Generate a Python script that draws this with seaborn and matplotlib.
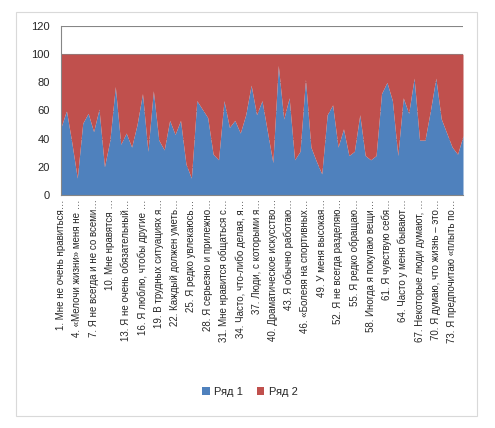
import numpy as np
import pandas as pd
import matplotlib
matplotlib.use("Agg")
import matplotlib.pyplot as plt
import seaborn as sns
from matplotlib.patches import Rectangle, Patch

# 75 questions, share of answers (Ряд 1 + Ряд 2 = 100)
series1 = [48, 60, 37, 12, 51, 58, 45, 61, 20, 39,
           77, 36, 44, 34, 50, 72, 31, 74, 39, 32,
           53, 43, 53, 22, 12, 67, 61, 55, 29, 25,
           67, 48, 53, 44, 57, 78, 57, 67, 45, 23,
           92, 54, 69, 25, 31, 82, 34, 24, 15, 57,
           64, 34, 47, 28, 31, 57, 28, 25, 28, 72,
           80, 67, 28, 69, 58, 83, 39, 39, 60, 83,
           54, 44, 34, 29, 42]
series2 = [100 - v for v in series1]

tick_labels = [
    "1. Мне не очень нравиться…",
    "4. «Мелочи жизни» меня не …",
    "7. Я не всегда и не со всеми…",
    "10. Мне нравятся …",
    "13. Я не очень обязательный…",
    "16. Я люблю, чтобы другие …",
    "19. В трудных ситуациях я…",
    "22. Каждый должен уметь…",
    "25. Я редко увлекаюсь…",
    "28. Я серьезно и прилежно…",
    "31. Мне нравится общаться с…",
    "34. Часто, что-либо делая, я…",
    "37. Люди, с которыми я…",
    "40. Драматическое искусство…",
    "43. Я обычно работаю…",
    "46. «Болеяя на спортивных…",
    "49. У меня высокая…",
    "52. Я не всегда разделяю…",
    "55. Я редко обращаю…",
    "58. Иногда я покупаю вещи…",
    "61. Я чувствую себя…",
    "64. Часто у меня бывают…",
    "67. Некоторые люди думают, …",
    "70. Я думаю, что жизнь – это…",
    "73. Я предпочитаю «плыть по…",
]
series_names = ["Ряд 1", "Ряд 2"]

df = pd.DataFrame({series_names[0]: series1, series_names[1]: series2})

sns.set_style("white")
plt.rcParams['font.family'] = ['Liberation Sans', 'DejaVu Sans']

colors = ["#4F81BD", "#C0504D"]

fig = plt.figure(figsize=(4.95, 4.28), dpi=100)
fig.patches.append(Rectangle((16 / 495, 1 - 416 / 428), 461 / 495, 404 / 428,
                             transform=fig.transFigure, fill=False,
                             edgecolor="#D9D9D9", linewidth=0.8))

ax = fig.add_axes([61 / 495, 1 - 195 / 428, 402 / 495, 169 / 428])
x = np.arange(len(df))
ax.stackplot(x, df[series_names[0]], df[series_names[1]],
             colors=colors, linewidth=0, zorder=2)

ax.set_xlim(0, len(df) - 1)
ax.set_ylim(0, 120)
ax.set_yticks(range(0, 121, 20))
ax.yaxis.grid(True, color="#868686", linewidth=0.8, zorder=0)
ax.set_axisbelow(True)

ax.set_xticks(x[::3])
ax.set_xticklabels(tick_labels, rotation=90, fontsize=7, va="top", ha="center")
ax.tick_params(axis="x", length=0, pad=3)
ax.tick_params(axis="y", length=0, pad=8, labelsize=8)

for side in ["right"]:
    ax.spines[side].set_visible(False)
ax.spines["top"].set_visible(False)
for side in ["left", "bottom"]:
    ax.spines[side].set_color("#868686")
    ax.spines[side].set_linewidth(0.8)

handles = [Patch(facecolor=c, edgecolor="none") for c in colors]
fig.legend(handles, series_names, loc="center", ncol=2,
           bbox_to_anchor=(250 / 495, 1 - 392 / 428), frameon=False,
           fontsize=8, handlelength=0.7, handleheight=0.7,
           handletextpad=0.4, columnspacing=1.2)

fig.savefig("out.png", dpi=100)
